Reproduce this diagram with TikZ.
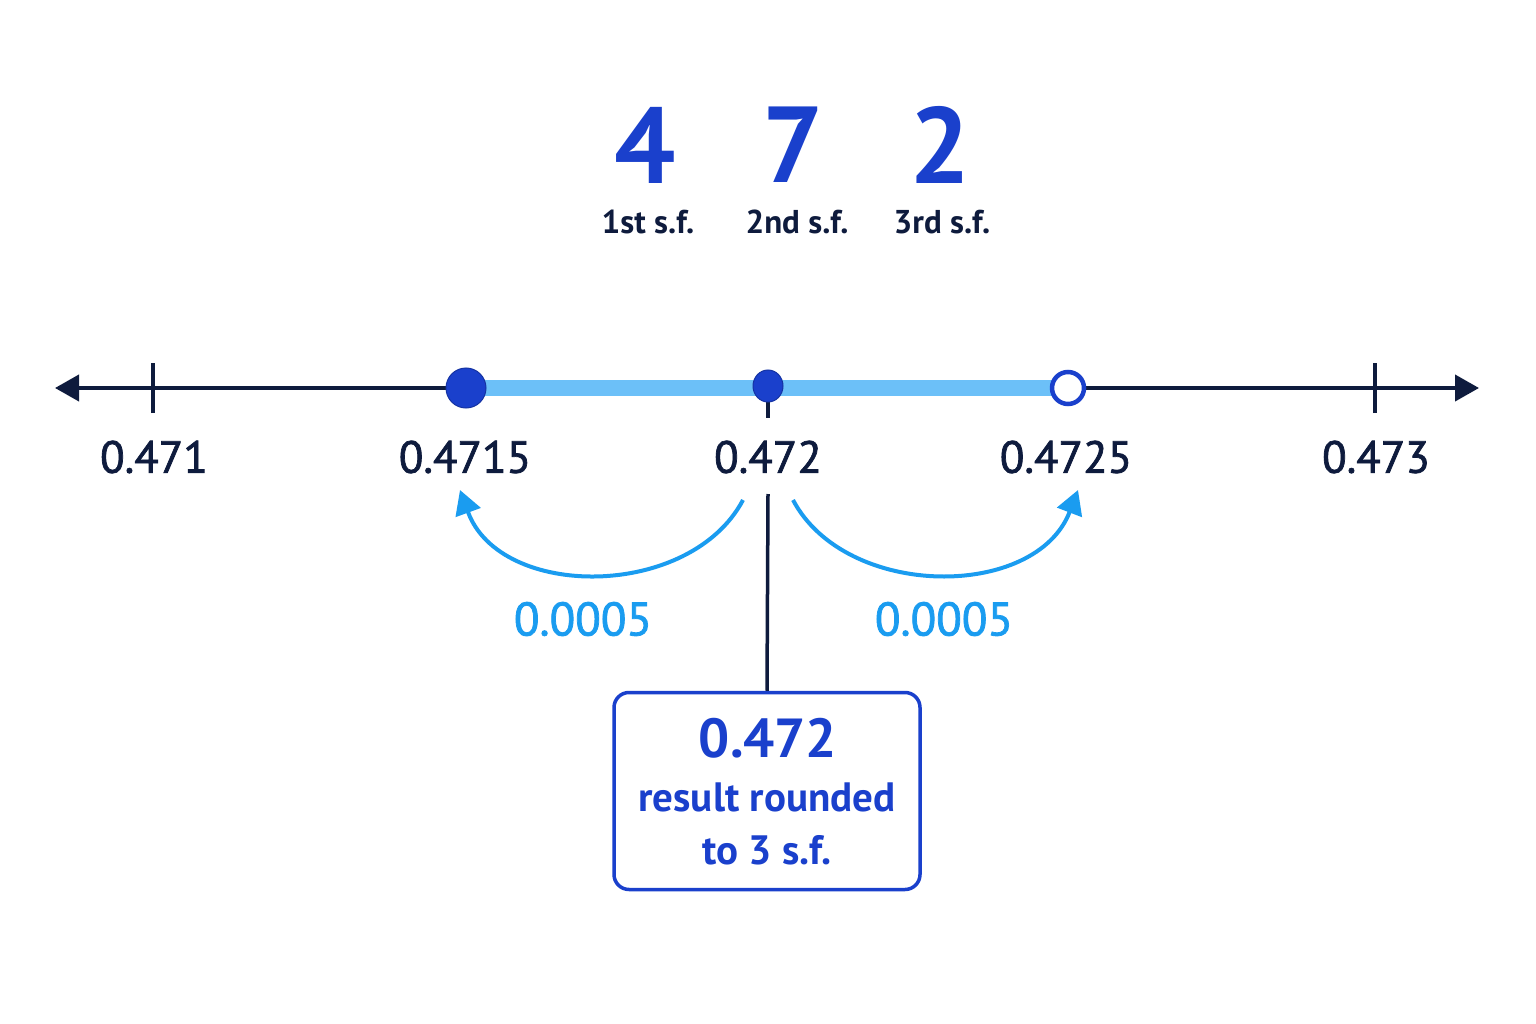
\documentclass[tikz,border=0pt]{standalone}
\usepackage{fontspec}
\setmainfont{PT Sans}
\newfontfamily\medfont[FakeBold=1.6]{PT Sans}
\usetikzlibrary{arrows.meta,shapes.geometric}
\definecolor{navy}{HTML}{0E1B3D}
\definecolor{dblue}{HTML}{1A40CC}
\definecolor{lblue}{HTML}{6CC0F8}
\definecolor{sky}{HTML}{1A9CF0}
\tikzset{
  axislabel/.style={text=navy,font=\medfont\fontsize{45}{54}\selectfont,inner sep=0pt},
  digit/.style={text=dblue,font=\bfseries\fontsize{108}{120}\selectfont,inner sep=0pt},
  sflabel/.style={text=navy,font=\bfseries\fontsize{33}{40}\selectfont,inner sep=0pt},
  steplabel/.style={text=sky,font=\medfont\fontsize{47}{56}\selectfont,inner sep=0pt},
  hop/.style={draw=sky,line width=4pt,-{Triangle[length=24pt,width=26pt]}},
  tickmark/.style={draw=navy,line width=3.5pt},
}
\begin{document}
\begin{tikzpicture}[x=1pt,y=-1pt]
\useasboundingbox[fill=white] (0,0) rectangle (1536,1024);
% digits
\node[digit] (d4) at (645,145) {4};
\node[digit] (d7) at (793,145) {7};
\node[digit] (d2) at (940,145) {2};
\node[sflabel] (s1) at (648,222) {1st s.f.};
\node[sflabel] (s2) at (797,222) {2nd s.f.};
\node[sflabel] (s3) at (942,222) {3rd s.f.};
% axis
\coordinate (L) at (55,388);
\coordinate (R) at (1479,388);
\draw[navy,line width=4pt,{Triangle[length=24pt,width=26pt]}-{Triangle[length=24pt,width=26pt]}] (L) -- (R);
\coordinate (t1) at (153,388);
\coordinate (t5) at (1375,388);
\draw[tickmark] ([yshift=-25pt]t1) -- ([yshift=25pt]t1);
\draw[tickmark] ([yshift=-25pt]t5) -- ([yshift=25pt]t5);
\coordinate (t3) at (768,388);
\draw[tickmark] (t3) -- ([yshift=-30pt]t3);
% highlighted interval
\coordinate (p2) at (466,388);
\coordinate (p4) at (1068,388);
\draw[lblue,line width=16pt] (p2) -- (p4);
\node[circle,fill=dblue,draw=dblue!80!black,line width=1pt,minimum size=40pt,inner sep=0pt] (dot2) at (p2) {};
\node[ellipse,fill=dblue,draw=dblue!80!black,line width=1pt,minimum width=30pt,minimum height=32pt,inner sep=0pt] (dot3) at (768,386) {};
\node[circle,fill=white,draw=dblue,line width=4.5pt,minimum size=32pt,inner sep=0pt] (dot4) at (p4) {};
% labels
\node[axislabel] (a1) at (154,457) {0.471};
\node[axislabel] (a2) at (465,457) {0.4715};
\node[axislabel] (a3) at (768,457) {0.472};
\node[axislabel] (a4) at (1066,457) {0.4725};
\node[axislabel] (a5) at (1376,457) {0.473};
% hops
\coordinate (h0l) at (743,500);
\coordinate (h1l) at (460,490);
\coordinate (h0r) at (793,500);
\coordinate (h1r) at (1078,490);
\draw[hop] (h0l) .. controls (690,600) and (500,600) .. (h1l);
\draw[hop] (h0r) .. controls (846,600) and (1036,600) .. (h1r);
\node[steplabel] (w1) at (583,619) {0.0005};
\node[steplabel] (w2) at (944,619) {0.0005};
% result box
\node[draw=dblue,line width=3.5pt,rounded corners=15pt,minimum width=306pt,minimum height=197pt,fill=white] (box) at (767,791) {};
\coordinate (c0) at (768,494);
\draw[navy,line width=3.5pt] (c0) -- (box.north);
\node[text=dblue,font=\bfseries\fontsize{55}{64}\selectfont,inner sep=0pt] (r1) at (768,738) {0.472};
\node[text=dblue,font=\bfseries\fontsize{41}{48}\selectfont,inner sep=0pt] (r2) at (767,797) {result rounded};
\node[text=dblue,font=\bfseries\fontsize{41}{48}\selectfont,inner sep=0pt] (r3) at (767,850) {to 3 s.f.};
\end{tikzpicture}
\end{document}
